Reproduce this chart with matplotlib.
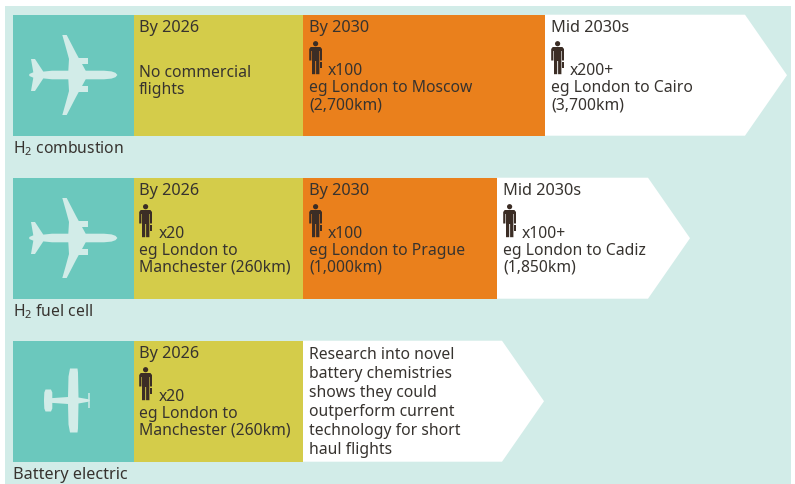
import matplotlib
matplotlib.use("Agg")
import matplotlib.pyplot as plt
from matplotlib.patches import Polygon, Rectangle, Circle

plt.rcParams['font.family'] = ['Noto Sans', 'DejaVu Sans']
plt.rcParams['mathtext.default'] = 'regular'

TEXT = '#37332f'
PERSON = '#3b2d25'
PANEL = '#d2ece8'
TEAL = '#6bc8bd'
YELLOW = '#d4cc4a'
ORANGE = '#ea801c'
WHITE = '#ffffff'

# Data -------------------------------------------------------------------
row_names = ['H$_2$ combustion', 'H$_2$ fuel cell', 'Battery electric']
row_edges = [[134, 303, 545, 745], [134, 303, 497, 648], [134, 303, 502]]
stage_colors = [[YELLOW, ORANGE, WHITE], [YELLOW, ORANGE, WHITE], [YELLOW, WHITE]]
stage_heads = [['By 2026', 'By 2030', 'Mid 2030s'],
               ['By 2026', 'By 2030', 'Mid 2030s'],
               ['By 2026', None]]
stage_pax = [[None, 'x100', 'x200+'], ['x20', 'x100', 'x100+'], ['x20', None]]
stage_text = [
    [['No commercial', 'flights'],
     ['eg London to Moscow', '(2,700km)'],
     ['eg London to Cairo', '(3,700km)']],
    [['eg London to', 'Manchester (260km)'],
     ['eg London to Prague', '(1,000km)'],
     ['eg London to Cadiz', '(1,850km)']],
    [['eg London to', 'Manchester (260km)'],
     ['Research into novel', 'battery chemistries', 'shows they could',
      'outperform current', 'technology for short', 'haul flights']],
]
row_tops = [15, 178, 341]
label_offsets = [138, 138.7, 138]
row_h = 121
arrow_len = 42

FS_HEAD = 11.7
FS = 11.3
RECT_SHIFT = 0.7

fig = plt.figure(figsize=(7.95, 4.85), dpi=100)
ax = fig.add_axes([0, 0, 1, 1])
ax.set_xlim(0, 795)
ax.set_ylim(485, 0)
ax.axis('off')

ax.add_patch(Rectangle((5, 6 + RECT_SHIFT), 786, 480, fc=PANEL, ec='none'))


def jet(y0):
    upper = [(117.4, 0), (115.5, -2.2), (111.5, -3.6), (104, -4.3), (85.7, -4.3), (76, -22), (66.7, -40),
             (62.3, -40), (66, -27), (69, -16), (68.3, -4.3), (52, -4.3), (43.3, -3.4), (35, -16), (31, -16),
             (33.3, -2.7), (29.3, -1.0)]
    lower = [(x, -y) for x, y in upper[:0:-1]]
    ax.add_patch(Polygon([(x, y0 + y) for x, y in upper + lower], fc=PANEL, ec='none', lw=0))
    ax.add_patch(Rectangle((76, y0 - 16.7), 12.3, 5.4, fc=PANEL, ec='none'))
    ax.add_patch(Rectangle((76, y0 + 11.3), 12.3, 5.4, fc=PANEL, ec='none'))


def prop(y0):
    upper = [(90, 0), (88, -1.3), (78.5, -3), (78, -28), (77.5, -32), (70, -32), (68.5, -24), (68, -3.5),
             (52.3, -2.4), (52.3, -8), (51, -11), (45.5, -11), (44.3, -8), (44, -1)]
    lower = [(x, -y) for x, y in upper[:0:-1]]
    ax.add_patch(Polygon([(x, y0 + y) for x, y in upper + lower], fc=PANEL, ec='none'))
    ax.add_patch(Rectangle((88.3, y0 - 7.2), 1.4, 14.4, fc=PANEL, ec='none', alpha=0.75))


def person(x, y):
    ax.add_patch(Circle((x + 6.4, y + 2.7), 2.6, fc=PERSON, ec='none'))
    ax.add_patch(Polygon([(x + 1.5, y + 6), (x + 11.2, y + 6), (x + 12.8, y + 8), (x + 12.8, y + 19.5), (x + 10.8, y + 19.5),
                          (x + 10.8, y + 10), (x + 10.2, y + 10), (x + 10.2, y + 33.2), (x + 6.9, y + 33.2), (x + 6.9, y + 20),
                          (x + 6.0, y + 20), (x + 6.0, y + 33.2), (x + 2.8, y + 33.2), (x + 2.8, y + 10), (x + 2.2, y + 10),
                          (x + 2.2, y + 19.5), (x, y + 19.5), (x, y + 8)], fc=PERSON, ec='none'))
    ax.add_patch(Rectangle((x + 11, y + 21), 1.8, 6, fc=PERSON, ec='none'))


def put(x, y, s, size=FS):
    ax.text(x, y, s, fontsize=size, color=TEXT, ha='left', va='baseline')


for r, top in enumerate(row_tops):
    bot = top + row_h
    rt = top + RECT_SHIFT
    rb = bot + RECT_SHIFT
    ax.add_patch(Rectangle((13, rt), 121, row_h, fc=TEAL, ec='none'))
    (prop if r == 2 else jet)(top + 61 if r < 2 else top + 60.5)
    put(13, top + label_offsets[r], row_names[r], FS + (0.4 if r == 2 else 0))
    edges = row_edges[r]
    for i, c in enumerate(stage_colors[r]):
        x0, x1 = edges[i], edges[i + 1]
        if c == WHITE:
            pts = [(x0, rt), (x1, rt), (x1 + arrow_len, rt + row_h / 2), (x1, rb), (x0, rb)]
            ax.add_patch(Polygon(pts, fc=WHITE, ec='none'))
        else:
            ax.add_patch(Rectangle((x0, rt), x1 - x0, row_h, fc=c, ec='none'))
        tx = x0 + (5 if i == 0 else 6)
        if stage_heads[r][i]:
            put(tx, top + 17, stage_heads[r][i], FS_HEAD)
        lines = stage_text[r][i]
        if stage_pax[r][i]:
            person(tx + 0.2, top + 27)
            put(x0 + 25, top + 60, stage_pax[r][i])
            put(tx, top + 77, lines[0])
            put(tx, top + 94, lines[1])
        elif len(lines) == 2:
            put(tx, top + 62, lines[0])
            put(tx, top + 79, lines[1])
        else:
            for k, ln in enumerate(lines):
                put(tx, top + 18 + k * 19.1, ln)

fig.savefig('out.png', dpi=100)
